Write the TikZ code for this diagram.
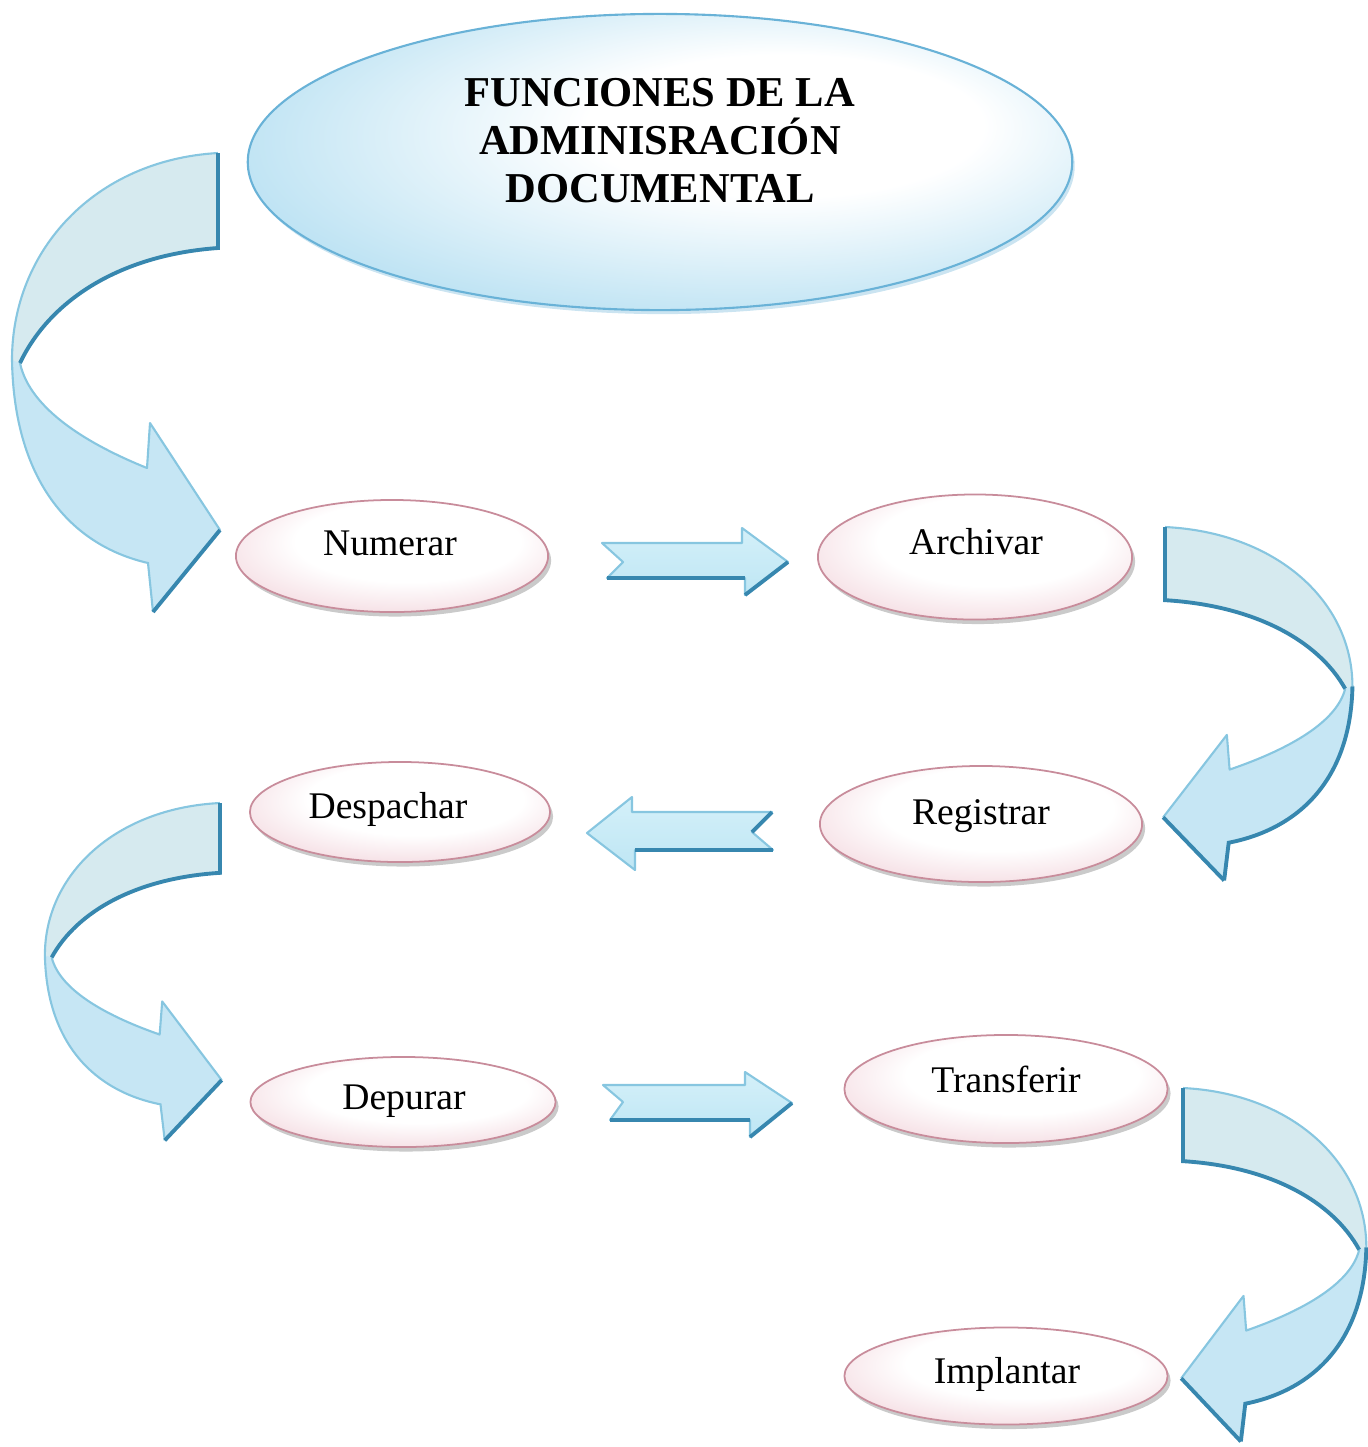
\documentclass[tikz,border=0pt]{standalone}
\usepackage{fontspec}
\setmainfont{Liberation Serif}
\usetikzlibrary{shapes.geometric,shadows}
\definecolor{tb}{RGB}{155,212,237}
\definecolor{tbdark}{RGB}{105,178,215}
\definecolor{pk}{RGB}{226,160,176}
\definecolor{pkdark}{RGB}{200,140,155}
\definecolor{frontfill}{RGB}{198,230,244}
\definecolor{backfill}{RGB}{214,234,239}
\definecolor{arrline}{RGB}{135,198,224}
\definecolor{arrdark}{RGB}{55,135,175}
\definecolor{arrtop}{RGB}{212,240,249}
\definecolor{arrbot}{RGB}{190,230,244}
\pgfdeclareradialshading{titleshade}{\pgfpoint{10bp}{8bp}}{color(0bp)=(white); color(12bp)=(white); color(40bp)=(tb); color(50bp)=(tbdark)}
\pgfdeclareradialshading{pinkshade}{\pgfpoint{4bp}{10bp}}{color(0bp)=(white); color(18bp)=(white); color(40bp)=(pk!60!white); color(50bp)=(pk)}
\tikzset{
  titleell/.style={ellipse, draw=tbdark, line width=0.6pt, shade, shading=titleshade,
    minimum width=8.24cm, minimum height=2.96cm, inner sep=0pt,
    drop shadow={shadow xshift=0.25mm, shadow yshift=-0.4mm, fill=tbdark, opacity=0.35}},
  funcell/.style={ellipse, draw=pkdark, line width=0.5pt, shade, shading=pinkshade, inner sep=0pt,
    drop shadow={shadow xshift=0.3mm, shadow yshift=-0.45mm, fill=black!60, opacity=0.35}},
  functxt/.style={anchor=base, font=\fontsize{10.7}{12}\selectfont, inner sep=0pt},
  titletxt/.style={align=center, font=\bfseries\fontsize{12.1}{13.66}\selectfont, inner sep=0pt},
  blockarr/.style={draw=arrline, line width=0.6pt, top color=arrtop, middle color=white, bottom color=arrbot},
  darkedge/.style={draw=arrdark, line width=1.1pt},
  lightedge/.style={draw=arrline, line width=0.6pt},
}
% curved block arrow in local coordinates: #1 scope options, #2 style of lower outer edge
\newcommand{\bandarrow}[2]{%
\begin{scope}[#1]
  \fill[frontfill] (0,0) .. controls (123,7) and (206,97) .. (206,207)
     .. controls (204,327) and (148,392) .. (70,410) -- (65,459) -- (-2,377) -- (68,270) -- (71,315)
     .. controls (128,292) and (188,257) .. (198,210)
     .. controls (168,147) and (98,102) .. (0,95) -- cycle;
  \fill[backfill] (0,0) .. controls (123,7) and (206,97) .. (206,207) -- (198,210)
     .. controls (168,147) and (98,102) .. (0,95) -- cycle;
  \draw[lightedge, line join=round] (0,0) .. controls (123,7) and (206,97) .. (206,207);
  \draw[#2] (206,207) .. controls (204,327) and (148,392) .. (70,410) -- (65,459);
  \draw[lightedge, line join=round] (-2,377) -- (68,270) -- (71,315)
     .. controls (128,292) and (188,257) .. (198,210);
  \draw[darkedge] (65,459) -- (-2,377);
  \draw[darkedge] (198,210) .. controls (168,147) and (98,102) .. (0,95) -- (0,0);
\end{scope}}
\begin{document}
\begin{tikzpicture}[x=0.01cm, y=-0.01cm]
\useasboundingbox (0,0) rectangle (1368,1447);

% title
\node[titleell] (title) at (660,162) {};
\node[titletxt] (titletext) at (660,141) {FUNCIONES DE LA\\ADMINISRACIÓN\\DOCUMENTAL};

% curved arrows
\bandarrow{shift={(218,153)}, xscale=-1, yscale=1}{lightedge}
\bandarrow{shift={(1165,527)}, xscale=0.91, yscale=0.77}{darkedge}
\bandarrow{shift={(220,803)}, xscale=-0.85, yscale=0.735}{lightedge}
\bandarrow{shift={(1183,1088)}, xscale=0.89, yscale=0.77}{darkedge}

% function ellipses
\node[funcell, minimum width=3.12cm, minimum height=1.12cm] (numerar) at (392,556) {};
\node[functxt] (numerar-t) at (390,555) {Numerar};
\node[funcell, minimum width=3.14cm, minimum height=1.25cm] (archivar) at (975,557) {};
\node[functxt] (archivar-t) at (976,554) {Archivar};
\node[funcell, minimum width=3.00cm, minimum height=1.00cm] (despachar) at (400,812) {};
\node[functxt] (despachar-t) at (388,818) {Despachar};
\node[funcell, minimum width=3.22cm, minimum height=1.16cm] (registrar) at (981,824) {};
\node[functxt] (registrar-t) at (981,824) {Registrar};
\node[funcell, minimum width=3.05cm, minimum height=0.90cm] (depurar) at (403,1102) {};
\node[functxt] (depurar-t) at (404,1109) {Depurar};
\node[funcell, minimum width=3.23cm, minimum height=1.08cm] (transferir) at (1006,1089) {};
\node[functxt] (transferir-t) at (1006,1092) {Transferir};
\node[funcell, minimum width=3.23cm, minimum height=0.97cm] (implantar) at (1006,1376) {};
\node[functxt] (implantar-t) at (1007,1383) {Implantar};

% straight block arrows
\draw[blockarr, line join=round] (602,543) -- (742,543) -- (742,528) -- (788,562) -- (745,595) -- (745,578) -- (607,578) -- (623,562) -- cycle;
\draw[darkedge] (607,578) -- (745,578);
\draw[darkedge] (788,562) -- (745,595);

\draw[blockarr, line join=round] (587,833) -- (632,797) -- (632,812) -- (772,812) -- (752,832) -- (773,850) -- (635,850) -- (635,870) -- cycle;
\draw[darkedge] (635,850) -- (773,850);
\draw[darkedge] (772,812) -- (752,832);

\draw[blockarr, line join=round] (603,1085) -- (745,1085) -- (745,1072) -- (792,1103) -- (750,1137) -- (750,1120) -- (610,1120) -- (623,1102) -- cycle;
\draw[darkedge] (610,1120) -- (750,1120);
\draw[darkedge] (792,1103) -- (750,1137);
\end{tikzpicture}
\end{document}
